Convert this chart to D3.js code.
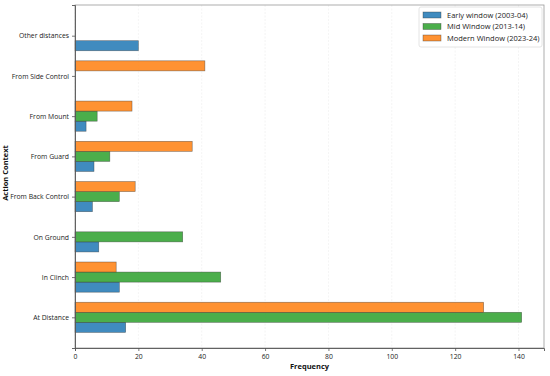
<!DOCTYPE html>
<html>
<head>
<meta charset="utf-8">
<script src="https://cdn.jsdelivr.net/npm/d3@7"></script>
<style>
  body { margin: 0; background: #fff; }
  svg { font-family: "Open Sans", "Noto Sans", sans-serif; }
</style>
</head>
<body>
<svg id="chart" width="550" height="376"></svg>
<script>
// categories bottom to top
const categories = ["At Distance", "In Clinch", "On Ground", "From Back Control",
                    "From Guard", "From Mount", "From Side Control", "Other distances"];
const seriesNames = ["Early window (2003-04)", "Mid Window (2013-14)", "Modern Window (2023-24)"];
const earlyVals  = [16, 14, 7.5, 5.5, 6, 3.5, 0, 20];
const midVals    = [141, 46, 34, 14, 11, 7, 0, 0];
const modernVals = [129, 13, 0, 19, 37, 18, 41, 0];
const xTicks = [0, 20, 40, 60, 80, 100, 120, 140];
const colors = ["#1f77b4", "#2ca02c", "#ff7f0e"];

const svg = d3.select("#chart");
const mLeft = 75, mRight = 544, mTop = 5, mBottom = 348;

const x = d3.scaleLinear().domain([0, 141 * 1.05]).range([mLeft, mRight]);
const y = d3.scaleLinear().domain([-0.7625, 7.7625]).range([mBottom, mTop]);

// grid
svg.append("g").selectAll("line")
    .data(xTicks)
    .join("line")
    .attr("x1", d => x(d)).attr("x2", d => x(d))
    .attr("y1", mTop).attr("y2", mBottom)
    .style("stroke", "#ececec")
    .style("stroke-width", 0.6)
    .style("stroke-dasharray", "2,1.5");

// bars
const series = [earlyVals, midVals, modernVals];
const offsets = [-0.25, 0, 0.25];
const barH = 0.25;
series.forEach(function(vals, s) {
    let rows = vals.map((v, i) => ({v: v, i: i})).filter(d => d.v > 0);
    svg.append("g").selectAll("rect")
        .data(rows)
        .join("rect")
        .attr("x", x(0))
        .attr("y", d => y(d.i + offsets[s] + barH / 2))
        .attr("width", d => x(d.v) - x(0))
        .attr("height", y(0) - y(barH))
        .style("fill", colors[s])
        .style("fill-opacity", 0.85)
        .style("stroke", "#333")
        .style("stroke-opacity", 0.6)
        .style("stroke-width", 0.6);
});

// frame
svg.append("rect")
    .attr("x", mLeft).attr("y", mTop)
    .attr("width", mRight - mLeft).attr("height", mBottom - mTop)
    .style("fill", "none")
    .style("stroke", "#999")
    .style("stroke-width", 0.8);

// axes
const xAxis = svg.append("g")
    .attr("transform", "translate(0," + mBottom + ")")
    .call(d3.axisBottom(x).tickValues(xTicks).tickSize(3).tickPadding(3));
const yAxis = svg.append("g")
    .attr("transform", "translate(" + mLeft + ",0)")
    .call(d3.axisLeft(y).tickValues(d3.range(categories.length))
        .tickFormat(i => categories[i]).tickSize(3).tickPadding(3));
[xAxis, yAxis].forEach(function(g) {
    g.select(".domain").style("stroke", "#555").style("stroke-width", 0.9);
    g.selectAll(".tick line").style("stroke", "#555").style("stroke-width", 0.8);
    g.selectAll("text").style("font-size", "6.8px").style("fill", "#222")
        .style("font-family", "'Open Sans', 'Noto Sans', sans-serif");
});

// axis titles
svg.append("text")
    .attr("x", (mLeft + mRight) / 2).attr("y", 369)
    .attr("text-anchor", "middle")
    .style("font-size", "7.5px").style("font-weight", "bold").style("fill", "#111")
    .text("Frequency");
svg.append("text")
    .attr("transform", "translate(8,173) rotate(-90)")
    .attr("text-anchor", "middle")
    .style("font-size", "7.5px").style("font-weight", "bold").style("fill", "#111")
    .text("Action Context");

// legend
const legend = svg.append("g").attr("transform", "translate(419,7)");
legend.append("rect")
    .attr("width", 123).attr("height", 40).attr("rx", 2)
    .style("fill", "#fff").style("fill-opacity", 0.9)
    .style("stroke", "#ddd").style("stroke-width", 0.8);
seriesNames.forEach(function(name, i) {
    const row = legend.append("g").attr("transform", "translate(4," + (5 + i * 11.5) + ")");
    row.append("rect")
        .attr("width", 18).attr("height", 6)
        .style("fill", colors[i]).style("fill-opacity", 0.85)
        .style("stroke", "#333").style("stroke-opacity", 0.6).style("stroke-width", 0.6);
    row.append("text")
        .attr("x", 24).attr("y", 5.5)
        .style("font-size", "7.5px").style("fill", "#222")
        .text(name);
});
</script>
</body>
</html>
